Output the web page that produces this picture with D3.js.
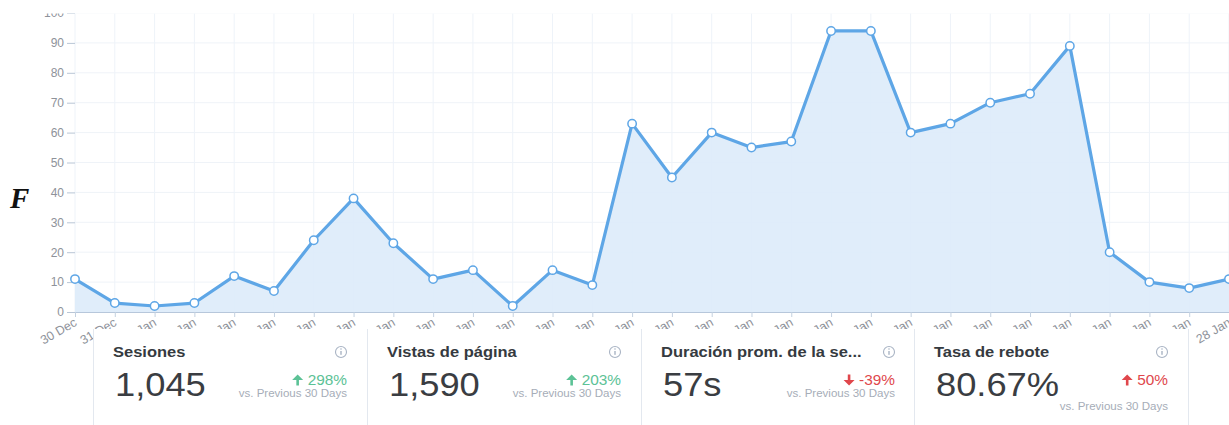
<!DOCTYPE html>
<html>
<head>
<meta charset="utf-8">
<script src="https://cdn.jsdelivr.net/npm/d3@7"></script>
<style>
  html, body { margin: 0; padding: 0; background: #fff; overflow: hidden; }
  svg { display: block; font-family: "Liberation Sans", Arial, sans-serif; }
</style>
</head>
<body>
<svg id="chart" width="1229" height="425"></svg>
<script>
// data
var dates = ["30 Dec", "31 Dec", "1 Jan", "2 Jan", "3 Jan", "4 Jan", "5 Jan", "6 Jan",
    "7 Jan", "8 Jan", "9 Jan", "10 Jan", "11 Jan", "12 Jan", "13 Jan", "14 Jan",
    "15 Jan", "16 Jan", "17 Jan", "18 Jan", "19 Jan", "20 Jan", "21 Jan", "22 Jan",
    "23 Jan", "24 Jan", "25 Jan", "26 Jan", "27 Jan", "28 Jan"];
var sessions = [11, 3, 2, 3, 12, 7, 24, 38, 23, 11, 14, 2, 14, 9, 63, 45,
    60, 55, 57, 94, 94, 60, 63, 70, 73, 89, 20, 10, 8, 11];
var yTicks = [0, 10, 20, 30, 40, 50, 60, 70, 80, 90, 100];

var cardTitles = ["Sesiones", "Vistas de página", "Duración prom. de la se...", "Tasa de rebote"];
var cardValues = ["1,045", "1,590", "57s", "80.67%"];
var cardChanges = ["298%", "203%", "-39%", "50%"];
var cardUp = [true, true, false, true];
var cardGood = [true, true, false, false];

var svg = d3.select("#chart");
var W = 1229, H = 425;
var stretch = 1.1;  // the screenshot is a bit wider than tall

var x = d3.scalePoint()
    .domain(dates)
    .range([75, 1229]);

var y = d3.scaleLinear()
    .domain([0, 100])
    .range([312, 13]);

var blue = "#5ea6e6";

// grid
var grid = svg.append("g").attr("class", "grid");
grid.selectAll(".hgrid")
    .data(yTicks)
    .enter().append("line")
    .attr("x1", 75).attr("x2", W)
    .attr("y1", d => y(d)).attr("y2", d => y(d))
    .attr("stroke", "#eff3f8");
grid.selectAll(".vgrid")
    .data(dates)
    .enter().append("line")
    .attr("x1", d => x(d)).attr("x2", d => x(d))
    .attr("y1", y(100)).attr("y2", y(0))
    .attr("stroke", "#eef3f9");

// area + line
var area = d3.area()
    .x((d, i) => x(dates[i]))
    .y0(y(0))
    .y1(d => y(d));

var line = d3.line()
    .x((d, i) => x(dates[i]))
    .y(d => y(d));

svg.append("path")
    .attr("d", area(sessions))
    .attr("fill", "#ddebf9")
    .attr("fill-opacity", 0.9);

// y axis
var yAxis = svg.append("g")
    .attr("transform", "translate(75,0)")
    .call(d3.axisLeft(y).tickValues(yTicks).tickSize(8).tickPadding(3));
yAxis.select(".domain").remove();
yAxis.selectAll(".tick line").attr("stroke", "#b9c6d6");
yAxis.selectAll(".tick text")
    .attr("fill", "#8e929a")
    .style("font-size", "12px")
    .style("font-family", "'Liberation Sans', Arial, sans-serif");

// x axis
var xAxis = svg.append("g")
    .attr("transform", "translate(0," + y(0) + ")")
    .call(d3.axisBottom(x).tickSize(5).tickPadding(4));
xAxis.select(".domain").attr("stroke", "#b7c7db");
xAxis.selectAll(".tick line").attr("stroke", "#c4d1e0");
xAxis.selectAll(".tick text")
    .attr("fill", "#8e929a")
    .style("font-size", "12.5px")
    .style("font-family", "'Liberation Sans', Arial, sans-serif")
    .attr("text-anchor", "end")
    .attr("dx", "0.3em")
    .attr("dy", "0.55em")
    .attr("transform", "translate(-9,1) rotate(-30)");

svg.append("path")
    .attr("d", line(sessions))
    .attr("fill", "none")
    .attr("stroke", blue)
    .attr("stroke-width", 3.2)
    .attr("stroke-linejoin", "round");

svg.selectAll(".dot")
    .data(sessions)
    .enter().append("circle")
    .attr("class", "dot")
    .attr("cx", (d, i) => x(dates[i]))
    .attr("cy", d => y(d))
    .attr("r", 4.2)
    .attr("fill", "#fff")
    .attr("stroke", blue)
    .attr("stroke-width", 1.5);

// top of the page is cropped
svg.append("rect")
    .attr("x", 0).attr("y", 0)
    .attr("width", W).attr("height", 13.5)
    .attr("fill", "#fff");

// stray heading letter on the left
svg.append("text")
    .attr("x", 10).attr("y", 208)
    .attr("font-family", "'Liberation Serif', 'DejaVu Serif', serif")
    .attr("font-style", "italic")
    .attr("font-weight", "bold")
    .attr("font-size", 29)
    .attr("fill", "#111")
    .text("F");

// KPI cards
var cardX = [93, 367, 641, 914];
var cardW = 274;

var cards = svg.append("g").attr("class", "cards");
cards.append("rect")
    .attr("x", cardX[0]).attr("y", 329)
    .attr("width", cardX[3] + cardW - cardX[0]).attr("height", H - 329)
    .attr("fill", "#fff");

cards.selectAll(".sep")
    .data(cardX.concat([cardX[3] + cardW]))
    .enter().append("line")
    .attr("x1", d => d + 0.5).attr("x2", d => d + 0.5)
    .attr("y1", 329).attr("y2", H)
    .attr("stroke", "#e3e8ef");

var card = cards.selectAll(".card")
    .data(cardTitles)
    .enter().append("g")
    .attr("class", "card")
    .attr("transform", (d, i) => "translate(" + cardX[i] + ",0)");

function at(px, py) {
    return "translate(" + px + "," + py + ") scale(" + stretch + ",1)";
}

card.append("text")
    .attr("transform", at(20, 357))
    .attr("font-size", 15)
    .attr("font-weight", "bold")
    .attr("fill", "#353a40")
    .text(d => d);

// info icon
var info = card.append("g")
    .attr("transform", "translate(248,352)");
info.append("circle")
    .attr("r", 5.5)
    .attr("fill", "none")
    .attr("stroke", "#a9b4c4")
    .attr("stroke-width", 1.1);
info.append("rect")
    .attr("x", -0.7).attr("y", -1).attr("width", 1.4).attr("height", 3.8)
    .attr("fill", "#a9b4c4");
info.append("circle")
    .attr("cy", -3).attr("r", 0.8)
    .attr("fill", "#a9b4c4");

card.append("text")
    .attr("transform", at(22, 396))
    .attr("font-size", 33)
    .attr("fill", "#3a3d42")
    .text((d, i) => cardValues[i]);

var change = card.append("g")
    .attr("transform", "translate(254,385)");
change.append("text")
    .attr("transform", "scale(" + stretch + ",1)")
    .attr("text-anchor", "end")
    .attr("font-size", 14)
    .attr("fill", (d, i) => cardGood[i] ? "#5cc296" : "#e0474c")
    .text((d, i) => cardChanges[i]);

// arrows
change.append("path")
    .attr("transform", function(d, i) {
        var w = this.parentNode.querySelector("text").getComputedTextLength() * stretch;
        return "translate(" + (-w - 10) + ",-5)" + (cardUp[i] ? "" : " rotate(180)");
    })
    .attr("d", "M0,-5.5 L5.5,0 L1.3,0 L1.3,5.5 L-1.3,5.5 L-1.3,0 L-5.5,0 Z")
    .attr("fill", (d, i) => cardGood[i] ? "#5cc296" : "#e0474c");

card.append("text")
    .attr("transform", (d, i) => at(254, i === 3 ? 410 : 397))
    .attr("text-anchor", "end")
    .attr("font-size", 10.5)
    .attr("fill", "#a6adb8")
    .text("vs. Previous 30 Days");
</script>
</body>
</html>
